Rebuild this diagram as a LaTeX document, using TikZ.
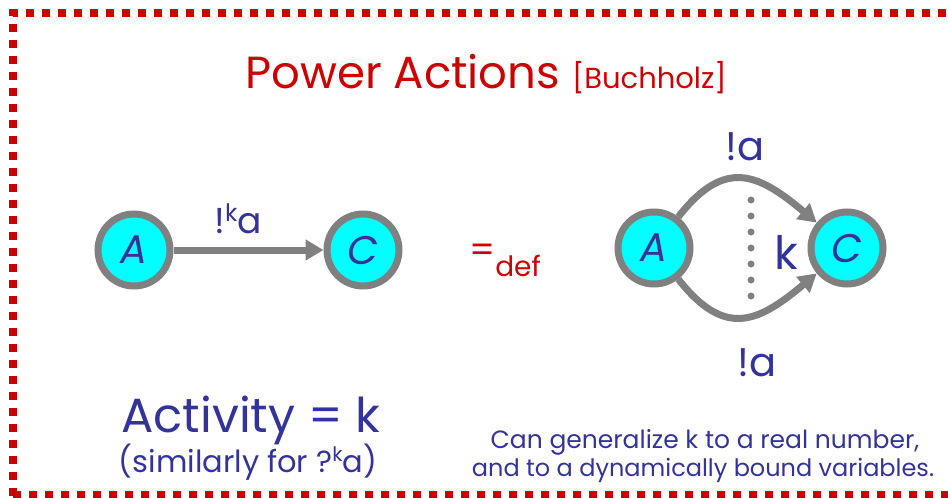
\documentclass[tikz,border=0pt]{standalone}
\usepackage{fontspec}
\setmainfont{Poppins}
\usetikzlibrary{arrows.meta}
\definecolor{tblue}{HTML}{333399}
\definecolor{tred}{HTML}{CC0000}
\definecolor{tgray}{HTML}{808080}
\definecolor{tcyan}{HTML}{00FFFF}
\begin{document}
\begin{tikzpicture}[x=1pt,y=1pt,
  state/.style={circle,draw=tgray,line width=7pt,fill=tcyan,minimum size=72pt,inner sep=0pt,text=tblue,font=\itshape\fontsize{40}{40}\selectfont},
  edge/.style={draw=tgray,line width=7pt,-{Triangle[length=18pt,width=20pt]}},
  lbl/.style={text=tblue,inner sep=0pt},
  dotc/.style={circle,fill=tgray,inner sep=0pt,minimum size=7pt}]
\useasboundingbox (0,0) rectangle (948,-498);
\draw[tred,line width=8pt,dash pattern=on 8pt off 8pt] (13,-960) -- (13,-13) -- (1500,-13);
\draw[tred,line width=8pt,dash pattern=on 8pt off 8pt] (13,-495) -- (1500,-495);
% title
\node[text=tred,anchor=base,inner sep=0pt] (title) at (486,-88) {\fontsize{45}{45}\selectfont Power Actions \fontsize{29}{29}\selectfont[Buchholz]};
% left
\node[state] (A1) at (134,-250) {A};
\node[state] (C1) at (363,-250) {C};
\draw[edge] (A1) -- (C1);
\node[lbl,anchor=base] (l1) at (238,-233) {\fontsize{36}{36}\selectfont !\raisebox{12pt}{\fontsize{24}{24}\selectfont k}a};
% def
\node[text=tred,inner sep=0pt,anchor=base] (def) at (505,-262) {\fontsize{36}{36}\selectfont =\raisebox{-14pt}{\fontsize{28}{28}\selectfont def}};
% right
\node[state] (A2) at (654,-248) {A};
\node[state] (C2) at (847,-248) {C};
\draw[edge] (A2) to[out=52,in=140,looseness=1.4] (C2);
\draw[edge] (A2) to[out=-52,in=-140,looseness=1.4] (C2);
\foreach \i in {0,...,6} \node[dotc] (d\i) at (751,-200-16*\i) {};
\node[lbl] (k) at (786,-252) {\fontsize{46}{46}\selectfont k};
\node[lbl,anchor=base] (la1) at (745,-160) {\fontsize{40}{40}\selectfont !a};
\node[lbl,anchor=base] (la2) at (757,-376) {\fontsize{40}{40}\selectfont !a};
% bottom left
\node[lbl,anchor=base] (act) at (251,-432) {\fontsize{48}{48}\selectfont Activity = k};
\node[lbl,anchor=base] (sim) at (248,-472) {\fontsize{30.5}{30.5}\selectfont (similarly for ?\raisebox{11pt}{\fontsize{20}{20}\selectfont k}a)};
% bottom right
\node[lbl,anchor=base,align=center] (gen1) at (705,-448) {\fontsize{25}{25}\selectfont Can generalize k to a real number,};
\node[lbl,anchor=base,align=center] (gen2) at (703,-476) {\fontsize{24}{24}\selectfont and to a dynamically bound variables.};
\end{tikzpicture}
\end{document}
